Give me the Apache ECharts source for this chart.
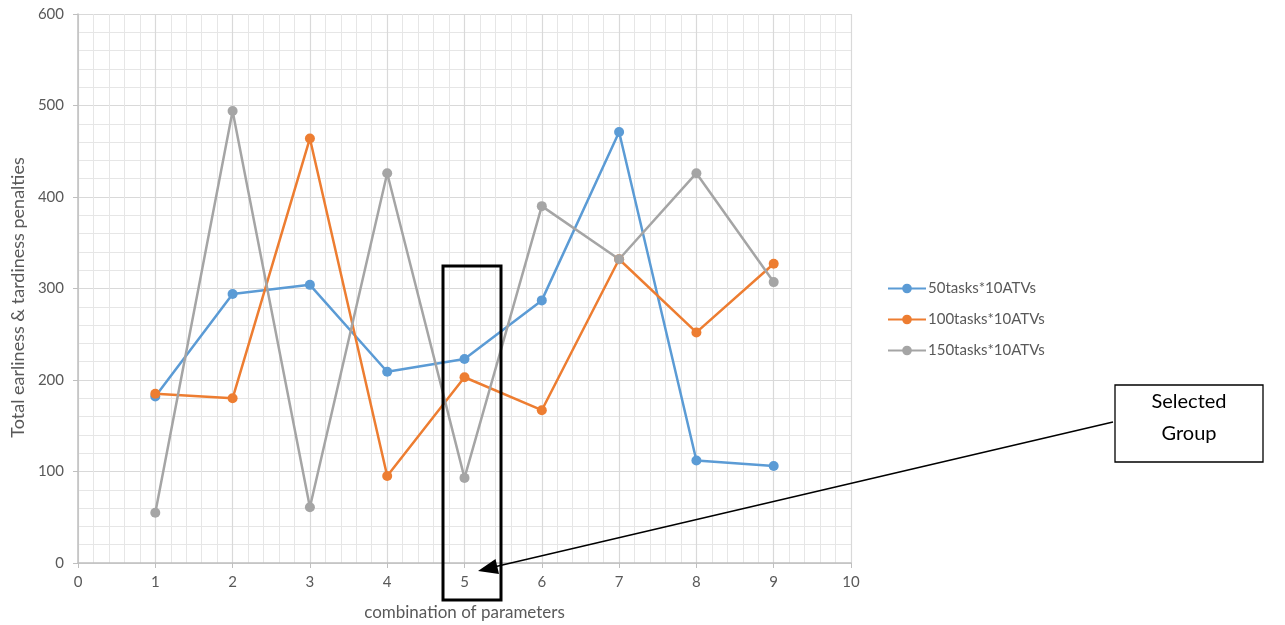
<!DOCTYPE html>
<html><head><meta charset="utf-8">
<script src="https://cdn.jsdelivr.net/npm/echarts@6/dist/echarts.min.js"></script>
<style>html,body{margin:0;padding:0;background:#fff}#c{width:1285px;height:625px}</style>
</head><body><div id="c"></div>
<script>
const xs = [1,2,3,4,5,6,7,8,9];
const seriesNames = ['50tasks*10ATVs','100tasks*10ATVs','150tasks*10ATVs'];
const s50 = [182,294,304,209,223,287,471,112,106];
const s100 = [185,180,464,95,203,167,332,252,327];
const s150 = [55,494,61,426,93,390,332,426,307];
const colors = ['#5B9BD5','#ED7D31','#A5A5A5'];
const xAxisName = 'combination of parameters';
const yAxisName = 'Total earliness & tardiness penalties';

const font = 'Lato, "Open Sans", sans-serif';
function mk(name, vals, color){
  return {name, type:'line', data: xs.map((x,i)=>[x, vals[i]]),
    symbol:'circle', symbolSize:10, color,
    lineStyle:{width:2.5, color}, itemStyle:{color}};
}
const chart = echarts.init(document.getElementById('c'));
chart.setOption({
  animation:false,
  grid:{left:78, right:434, top:14, bottom:62, outerBoundsMode:'none', containLabel:false},
  legend:{orient:'vertical', left:882, top:276, itemGap:16, itemWidth:38, itemHeight:12,
    textStyle:{color:'#595959', fontSize:15, fontFamily:font, padding:[0,0,0,-3]},
    data:seriesNames},
  xAxis:{type:'value', min:0, max:10, interval:1,
    name:xAxisName, nameLocation:'middle', nameGap:41,
    nameTextStyle:{color:'#595959', fontSize:17, fontFamily:font},
    axisLine:{show:true, lineStyle:{color:'#BFBFBF', width:1.5}},
    axisTick:{show:true, length:5, lineStyle:{color:'#BFBFBF'}},
    axisLabel:{color:'#595959', fontSize:15, fontFamily:font, margin:12},
    splitLine:{show:true, lineStyle:{color:'#D9D9D9', width:1.2}},
    minorTick:{show:false, splitNumber:5},
    minorSplitLine:{show:true, lineStyle:{color:'#E6E6E6', width:1}}},
  yAxis:{type:'value', min:0, max:600, interval:100,
    name:yAxisName, nameLocation:'middle', nameGap:50,
    nameTextStyle:{color:'#595959', fontSize:18, fontFamily:font, padding:[0,18,0,0]},
    axisLine:{show:true, lineStyle:{color:'#BFBFBF', width:1.5}},
    axisTick:{show:true, length:5, lineStyle:{color:'#BFBFBF'}},
    axisLabel:{color:'#595959', fontSize:15, fontFamily:font, margin:14},
    splitLine:{show:true, lineStyle:{color:'#D9D9D9', width:1.2}},
    minorTick:{show:false, splitNumber:5},
    minorSplitLine:{show:true, lineStyle:{color:'#E6E6E6', width:1}}},
  series:[mk(seriesNames[0], s50, colors[0]), mk(seriesNames[1], s100, colors[1]), mk(seriesNames[2], s150, colors[2])],
  graphic:[
    {type:'rect', shape:{x:443, y:266, width:58, height:334}, style:{fill:'none', stroke:'#000', lineWidth:3}, z:100},
    {type:'line', shape:{x1:1113, y1:422, x2:496, y2:566.5}, style:{stroke:'#000', lineWidth:1.5}, z:100},
    {type:'polygon', shape:{points:[[478,571],[499,574],[495.5,559]]}, style:{fill:'#000'}, z:100},
    {type:'rect', shape:{x:1115, y:385, width:148, height:77}, style:{fill:'#fff', stroke:'#000', lineWidth:1.3}, z:100},
    {type:'text', x:1189, y:402, style:{text:'Selected', fill:'#000', font:'20px '+font, align:'center', verticalAlign:'middle'}, z:101},
    {type:'text', x:1189, y:434, style:{text:'Group', fill:'#000', font:'20px '+font, align:'center', verticalAlign:'middle'}, z:101}
  ]
});
</script></body></html>
